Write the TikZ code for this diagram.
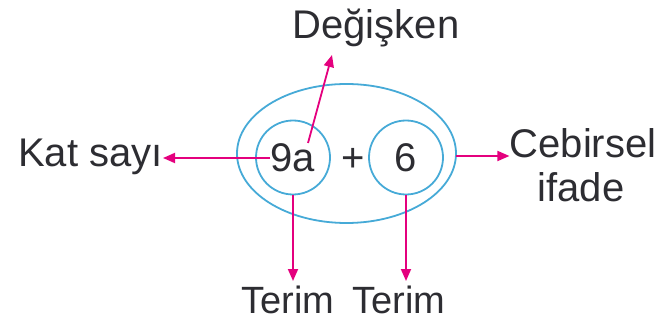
\documentclass[tikz,border=0pt]{standalone}
\usepackage{fontspec}
\setmainfont{Liberation Sans}
\usetikzlibrary{arrows.meta,shapes.geometric}
\definecolor{ringblue}{RGB}{70,170,215}
\definecolor{pointer}{RGB}{228,0,126}
\definecolor{ink}{RGB}{45,45,50}
\tikzset{
  lbl/.style={inner sep=0pt, text=ink, font=\fontsize{40}{44}\selectfont},
  ring/.style={draw=ringblue, line width=1.8pt},
  termcircle/.style={ring, circle, minimum size=74pt, inner sep=0pt, text=ink,
                     font=\fontsize{40}{44}\selectfont},
  pointarrow/.style={draw=pointer, line width=1.8pt,
                     -{Triangle[length=12pt,width=10pt]}},
}
\begin{document}
\begin{tikzpicture}[x=1pt,y=-1pt]
  \useasboundingbox (0,0) rectangle (662,326);
  % outer ring around the whole expression
  \node[ring, ellipse, minimum width=219pt, minimum height=139pt, inner sep=0pt]
    (expr) at (346.5,153.5) {};
  % the two terms
  \node[termcircle] (t1) at (293,157.5) {9a};
  \node[termcircle] (t2) at (406,157.5) {6};
  \node[lbl] (plus) at (353,160) {+};
  % labels
  \node[lbl, anchor=base east] (katsayi) at (163,167) {Kat sayı};
  \node[lbl, anchor=base] (degisken) at (376,39) {Değişken};
  \node[lbl, anchor=base] (cebirsel) at (583,158) {Cebirsel};
  \node[lbl, anchor=base] (ifade) at (581,202) {ifade};
  \node[lbl, anchor=base, font=\fontsize{38}{44}\selectfont] (terimA) at (288,313) {Terim};
  \node[lbl, anchor=base, font=\fontsize{38}{44}\selectfont] (terimB) at (399,313) {Terim};
  % arrow end points
  \coordinate (katfrom) at (270,158);
  \coordinate (degfrom) at (308,143);
  \coordinate (degto) at (332,55);
  \coordinate (exprfrom) at (456,156);
  % pointers
  \draw[pointarrow] (katfrom) -- (katsayi.east |- katfrom);
  \draw[pointarrow] (degfrom) -- (degto);
  \draw[pointarrow] (exprfrom) -- (cebirsel.west |- exprfrom);
  \draw[pointarrow] (t1.south) -- (t1.south |- 0,281);
  \draw[pointarrow] (t2.south) -- (t2.south |- 0,281);
\end{tikzpicture}
\end{document}
